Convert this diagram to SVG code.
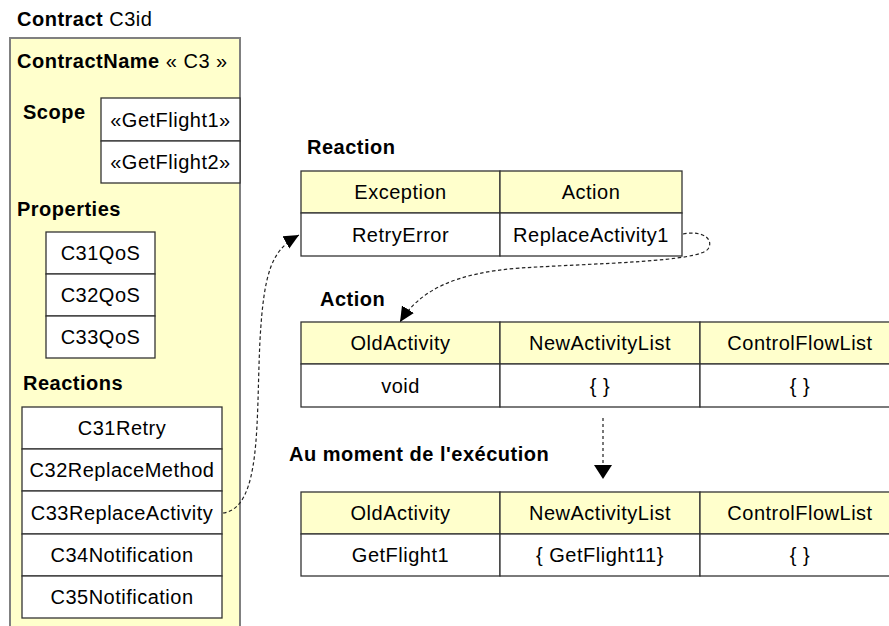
<svg xmlns="http://www.w3.org/2000/svg" width="889" height="626" viewBox="0 0 889 626">
<style>
text{font-family:"Liberation Sans",Arial,sans-serif;font-size:20px;letter-spacing:0.5px;fill:#000}
.b{font-weight:bold}
.c{text-anchor:middle}
.cell{fill:#fff;stroke:#333;stroke-width:1.3}
.hd{fill:#ffffcc;stroke:#333;stroke-width:1.3}
.dash{fill:none;stroke:#222;stroke-width:1.2;stroke-dasharray:3.5 2.5}
</style>
<defs>
<marker id="ah" markerUnits="userSpaceOnUse" markerWidth="16" markerHeight="16" viewBox="0 0 16 16" refX="15" refY="8" orient="auto">
<path d="M0,1 L15,8 L0,15 Z" fill="#000"/>
</marker>
</defs>
<rect width="889" height="626" fill="#fff"/>
<g id="contract">
<text x="17" y="26"><tspan class="b">Contract</tspan> C3id</text>
<rect x="10" y="38" width="230" height="600" fill="#ffffcc" stroke="#808080" stroke-width="2"/>
<text x="17" y="68"><tspan class="b">ContractName</tspan> « C3 »</text>
</g>
<g id="scope">
<text x="23" y="119" class="b">Scope</text>
<rect x="101" y="98" width="139" height="43" class="cell"/>
<rect x="101" y="141" width="139" height="42" class="cell"/>
<text x="170.5" y="126.5" class="c">«GetFlight1»</text>
<text x="170.5" y="169" class="c">«GetFlight2»</text>
</g>
<g id="properties">
<text x="17" y="216" class="b">Properties</text>
<rect x="46" y="232" width="109" height="42" class="cell"/>
<rect x="46" y="274" width="109" height="42" class="cell"/>
<rect x="46" y="316" width="109" height="42" class="cell"/>
<text x="100.5" y="260" class="c">C31QoS</text>
<text x="100.5" y="302" class="c">C32QoS</text>
<text x="100.5" y="344" class="c">C33QoS</text>
</g>
<g id="reactions">
<text x="23" y="390" class="b">Reactions</text>
<rect x="22" y="407" width="200" height="42" class="cell"/>
<rect x="22" y="449" width="200" height="42" class="cell"/>
<rect x="22" y="491" width="200" height="43" class="cell"/>
<rect x="22" y="534" width="200" height="42" class="cell"/>
<rect x="22" y="576" width="200" height="42" class="cell"/>
<text x="122" y="435" class="c">C31Retry</text>
<text x="122" y="477" class="c">C32ReplaceMethod</text>
<text x="122" y="519.5" class="c">C33ReplaceActivity</text>
<text x="122" y="562" class="c">C34Notification</text>
<text x="122" y="604" class="c">C35Notification</text>
</g>
<g id="reaction">
<text x="307" y="154" class="b">Reaction</text>
<rect x="301" y="171" width="199" height="42" class="hd"/>
<rect x="500" y="171" width="182" height="42" class="hd"/>
<rect x="301" y="213" width="199" height="43" class="cell"/>
<rect x="500" y="213" width="182" height="43" class="cell"/>
<text x="400.5" y="199" class="c">Exception</text>
<text x="591" y="199" class="c">Action</text>
<text x="400.5" y="241.5" class="c">RetryError</text>
<text x="591" y="241.5" class="c">ReplaceActivity1</text>
</g>
<g id="action">
<text x="320" y="306" class="b">Action</text>
<rect x="301" y="322" width="199" height="42" class="hd"/>
<rect x="500" y="322" width="200" height="42" class="hd"/>
<rect x="700" y="322" width="200" height="42" class="hd"/>
<rect x="301" y="364" width="199" height="43" class="cell"/>
<rect x="500" y="364" width="200" height="43" class="cell"/>
<rect x="700" y="364" width="200" height="43" class="cell"/>
<text x="400.5" y="350" class="c">OldActivity</text>
<text x="600" y="350" class="c">NewActivityList</text>
<text x="800" y="350" class="c">ControlFlowList</text>
<text x="400.5" y="392.5" class="c">void</text>
<text x="600" y="392.5" class="c">{ }</text>
<text x="800" y="392.5" class="c">{ }</text>
</g>
<g id="execution">
<text x="289" y="461" class="b">Au moment de l'exécution</text>
<rect x="301" y="492" width="199" height="42" class="hd"/>
<rect x="500" y="492" width="200" height="42" class="hd"/>
<rect x="700" y="492" width="200" height="42" class="hd"/>
<rect x="301" y="534" width="199" height="42" class="cell"/>
<rect x="500" y="534" width="200" height="42" class="cell"/>
<rect x="700" y="534" width="200" height="42" class="cell"/>
<text x="400.5" y="520" class="c">OldActivity</text>
<text x="600" y="520" class="c">NewActivityList</text>
<text x="800" y="520" class="c">ControlFlowList</text>
<text x="400.5" y="562" class="c">GetFlight1</text>
<text x="600" y="562" class="c">{ GetFlight11}</text>
<text x="800" y="562" class="c">{ }</text>
</g>
<g id="connectors">
<path class="dash" d="M223,513 C 262,508 256,420 260,340 C 264,270 272,250 299,235" marker-end="url(#ah)"/>
<path class="dash" d="M683,234 C 704,230 714,240 708,249 C 698,262 600,263 520,268 C 455,273 420,290 400,322" marker-end="url(#ah)"/>
<line x1="603" y1="418" x2="603" y2="466" stroke="#777" stroke-width="2" stroke-dasharray="3 3"/>
<path d="M594,465 L612,465 L603,479 Z" fill="#000"/>
</g>
</svg>
